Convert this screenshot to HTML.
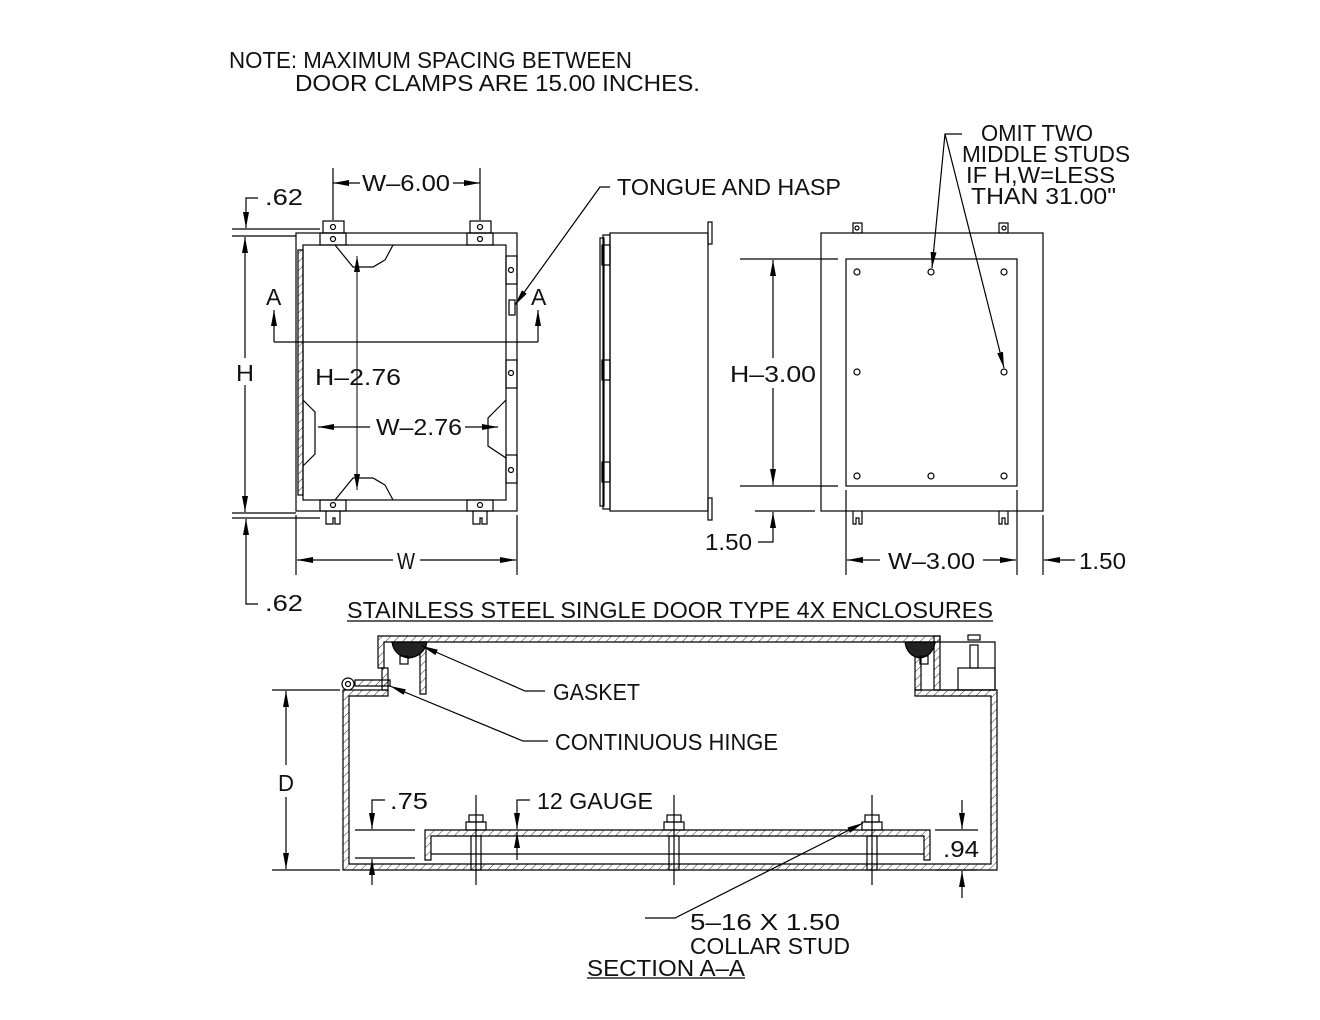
<!DOCTYPE html>
<html><head><meta charset="utf-8"><style>
html,body{margin:0;padding:0;background:#fff;}
svg{display:block}
text{font-family:"Liberation Sans",sans-serif;font-size:23px;fill:#111;}
</style></head><body>
<svg width="1320" height="1020" viewBox="0 0 1320 1020" xmlns="http://www.w3.org/2000/svg">
<defs>
<marker id="a" viewBox="0 0 16 6" refX="16" refY="3" markerWidth="16" markerHeight="6" markerUnits="userSpaceOnUse" orient="auto-start-reverse"><path d="M0,0L16,3L0,6z" fill="#000"/></marker>
<pattern id="h" width="6" height="6" patternUnits="userSpaceOnUse" patternTransform="rotate(45)"><line x1="0" y1="0" x2="0" y2="6" stroke="#000" stroke-width="0.8"/></pattern>
</defs>
<g stroke="#000" stroke-width="1.2" fill="none">
<rect x="296" y="233" width="221" height="278"/>
<rect x="303" y="245" width="203" height="255"/>
<rect x="298" y="250" width="5" height="245" fill="url(#h)"/>
<rect x="323" y="221" width="21" height="12"/><circle cx="333" cy="227" r="2.5"/>
<rect x="320" y="233" width="26" height="12"/><circle cx="333" cy="239" r="2.5"/>
<rect x="470" y="221" width="21" height="12"/><circle cx="480" cy="227" r="2.5"/>
<rect x="467" y="233" width="26" height="12"/><circle cx="480" cy="239" r="2.5"/>
<rect x="320" y="500" width="26" height="11"/><circle cx="333" cy="505" r="2.5"/>
<rect x="467" y="500" width="26" height="11"/><circle cx="480" cy="505" r="2.5"/>
<path d="M326,511v13h7v-6h2v6h5v-13M473,511v13h7v-6h2v6h5v-13"/>
<rect x="506" y="256" width="11" height="28"/><circle cx="511" cy="270" r="2.5"/>
<rect x="506" y="360" width="11" height="28"/><circle cx="511" cy="373" r="2.5"/>
<rect x="506" y="455" width="11" height="28"/><circle cx="511" cy="470" r="2.5"/>
<rect x="509" y="300" width="6" height="15"/>
<path d="M335,245l18,22h20l12,-7l8,-15M335,500l18,-22h20l12,7l8,15"/>
<path d="M303,400l12,12v42l-12,12M506,400l-18,18v28l18,12"/>
<line x1="357" y1="256" x2="357" y2="490" marker-start="url(#a)" marker-end="url(#a)" stroke-width="1"/>
<line x1="318" y1="427" x2="370" y2="427" marker-start="url(#a)"/>
<line x1="465" y1="427" x2="498" y2="427" marker-end="url(#a)"/>
<line x1="333" y1="168" x2="333" y2="220"/><line x1="480" y1="168" x2="480" y2="220"/>
<line x1="333" y1="183" x2="360" y2="183" marker-start="url(#a)"/>
<line x1="453" y1="183" x2="480" y2="183" marker-end="url(#a)"/>
<line x1="232" y1="229" x2="320" y2="229"/><line x1="232" y1="236" x2="296" y2="236"/>
<line x1="232" y1="513" x2="296" y2="513"/><line x1="232" y1="518" x2="320" y2="518"/>
<line x1="245" y1="237" x2="245" y2="358" marker-start="url(#a)"/>
<line x1="245" y1="385" x2="245" y2="512" marker-end="url(#a)"/>
<path d="M258,198h-12v30" marker-end="url(#a)"/>
<path d="M258,604h-12v-85" marker-end="url(#a)"/>
<line x1="296" y1="515" x2="296" y2="575"/><line x1="517" y1="515" x2="517" y2="575"/>
<line x1="297" y1="560" x2="393" y2="560" marker-start="url(#a)"/>
<line x1="420" y1="560" x2="516" y2="560" marker-end="url(#a)"/>
<line x1="274" y1="342" x2="538" y2="342"/>
<line x1="274" y1="342" x2="274" y2="310" marker-end="url(#a)"/>
<line x1="538" y1="342" x2="538" y2="310" marker-end="url(#a)"/>
<path d="M610,187h-10l-85,118" marker-end="url(#a)"/>
<rect x="610" y="233" width="98" height="278"/>
<rect x="603" y="235" width="7" height="274"/>
<rect x="600" y="238" width="4" height="268"/>
<rect x="708" y="222" width="4" height="22"/><rect x="708" y="498" width="4" height="22"/>
<rect x="602" y="360" width="8" height="20"/><rect x="602" y="462" width="8" height="20"/><rect x="602" y="245" width="8" height="20"/>
<rect x="821" y="233" width="222" height="278"/>
<rect x="846" y="259" width="171" height="227"/>
<rect x="853" y="223" width="9" height="10"/><circle cx="857" cy="228" r="2"/>
<rect x="999" y="223" width="9" height="10"/><circle cx="1004" cy="228" r="2"/>
<path d="M853,511v13h3v-6h3v6h3v-13M999,511v13h3v-6h3v6h3v-13"/>
<circle cx="857" cy="272" r="3"/><circle cx="931" cy="272" r="3"/><circle cx="1004" cy="272" r="3"/>
<circle cx="857" cy="372" r="3"/><circle cx="1004" cy="372" r="3"/>
<circle cx="857" cy="476" r="3"/><circle cx="931" cy="476" r="3"/><circle cx="1004" cy="476" r="3"/>
<path d="M962,134h-17l-13,134" marker-end="url(#a)"/>
<path d="M945,134l59,234" marker-end="url(#a)"/>
<line x1="740" y1="259" x2="838" y2="259"/><line x1="740" y1="486" x2="838" y2="486"/>
<line x1="773" y1="260" x2="773" y2="358" marker-start="url(#a)"/>
<line x1="773" y1="388" x2="773" y2="485" marker-end="url(#a)"/>
<line x1="755" y1="511" x2="815" y2="511"/>
<path d="M758,542h15v-30" marker-end="url(#a)"/>
<line x1="846" y1="490" x2="846" y2="575"/><line x1="1017" y1="490" x2="1017" y2="575"/><line x1="1043" y1="515" x2="1043" y2="575"/>
<line x1="847" y1="560" x2="880" y2="560" marker-start="url(#a)"/>
<line x1="983" y1="560" x2="1016" y2="560" marker-end="url(#a)"/>
<line x1="1075" y1="560" x2="1044" y2="560" marker-end="url(#a)"/>
<line x1="347" y1="621" x2="993" y2="621"/>
<path d="M378,636h562v6h-556v26h-6z" fill="url(#h)"/>
<path d="M343,690h45v6h-39v168h642v-168h-76v-6h82v180h-654z" fill="url(#h)"/>
<path d="M388,668h-6v22h6zM420,642h6v52h-6zM915,642h6v48h-6zM940,636h-6v54h6z" fill="url(#h)"/>
<path d="M355,680h35v6h-35z" fill="url(#h)"/>
<circle cx="348" cy="684" r="6"/><circle cx="348" cy="684" r="2.5"/>
<path d="M392,642h35q-3,14,-18,16q-15,-2,-17,-16z" fill="#222"/>
<path d="M905,642h30q-2,14,-15,16q-13,-2,-15,-16z" fill="#222"/>
<rect x="400" y="656" width="8" height="8"/><rect x="920" y="656" width="8" height="8"/>
<path d="M940,642h55v48h-55"/><rect x="958" y="668" width="37" height="22"/><rect x="970" y="645" width="8" height="23"/><rect x="968" y="635" width="12" height="5"/>
<path d="M425,830h505v30h-6v-24h-493v24h-6z" fill="url(#h)"/>
<line x1="431" y1="854" x2="924" y2="854"/>
<rect x="466" y="822" width="20" height="8"/><rect x="469" y="815" width="14" height="7"/><rect x="471" y="836" width="10" height="34"/>
<rect x="664" y="822" width="20" height="8"/><rect x="667" y="815" width="14" height="7"/><rect x="669" y="836" width="10" height="34"/>
<rect x="862" y="822" width="20" height="8"/><rect x="865" y="815" width="14" height="7"/><rect x="867" y="836" width="10" height="34"/>
<line x1="476" y1="795" x2="476" y2="885"/><line x1="674" y1="795" x2="674" y2="885"/><line x1="872" y1="795" x2="872" y2="885"/>
<line x1="272" y1="690" x2="340" y2="690"/><line x1="272" y1="870" x2="340" y2="870"/>
<line x1="286" y1="691" x2="286" y2="765" marker-start="url(#a)"/>
<line x1="286" y1="797" x2="286" y2="869" marker-end="url(#a)"/>
<line x1="355" y1="830" x2="415" y2="830"/><line x1="355" y1="858" x2="415" y2="858"/>
<path d="M385,800h-13v29" marker-end="url(#a)"/>
<line x1="372" y1="885" x2="372" y2="859" marker-end="url(#a)"/>
<path d="M530,800h-13v29" marker-end="url(#a)"/>
<line x1="517" y1="860" x2="517" y2="832" marker-end="url(#a)"/>
<line x1="935" y1="830" x2="978" y2="830"/><line x1="935" y1="870" x2="978" y2="870"/>
<line x1="962" y1="800" x2="962" y2="829" marker-end="url(#a)"/>
<line x1="962" y1="898" x2="962" y2="871" marker-end="url(#a)"/>
<path d="M545,691h-20l-103,-45" marker-end="url(#a)"/>
<path d="M548,741h-25l-133,-55" marker-end="url(#a)"/>
<path d="M645,918h30l188,-95" marker-end="url(#a)"/>
<line x1="587" y1="978" x2="745" y2="978"/>
</g>
<g>
<text x="229" y="68" textLength="403" lengthAdjust="spacingAndGlyphs">NOTE: MAXIMUM  SPACING  BETWEEN</text>
<text x="295" y="91" textLength="405" lengthAdjust="spacingAndGlyphs">DOOR  CLAMPS  ARE  15.00  INCHES.</text>
<text x="265" y="205" textLength="38" lengthAdjust="spacingAndGlyphs">.62</text>
<text x="265" y="611" textLength="38" lengthAdjust="spacingAndGlyphs">.62</text>
<text x="362" y="191" textLength="88" lengthAdjust="spacingAndGlyphs">W–6.00</text>
<text x="236" y="381" textLength="18" lengthAdjust="spacingAndGlyphs">H</text>
<text x="266" y="305">A</text><text x="531" y="305">A</text>
<text x="315" y="385" textLength="86" lengthAdjust="spacingAndGlyphs">H–2.76</text>
<text x="376" y="435" textLength="86" lengthAdjust="spacingAndGlyphs">W–2.76</text>
<text x="397" y="569" textLength="18" lengthAdjust="spacingAndGlyphs">W</text>
<text x="617" y="195" textLength="224" lengthAdjust="spacingAndGlyphs">TONGUE  AND  HASP</text>
<text x="981" y="141" textLength="112" lengthAdjust="spacingAndGlyphs">OMIT  TWO</text>
<text x="962" y="162" textLength="168" lengthAdjust="spacingAndGlyphs">MIDDLE  STUDS</text>
<text x="966" y="183" textLength="149" lengthAdjust="spacingAndGlyphs">IF  H,W=LESS</text>
<text x="971" y="204" textLength="145" lengthAdjust="spacingAndGlyphs">THAN  31.00"</text>
<text x="730" y="382" textLength="86" lengthAdjust="spacingAndGlyphs">H–3.00</text>
<text x="705" y="550" textLength="47" lengthAdjust="spacingAndGlyphs">1.50</text>
<text x="888" y="569" textLength="87" lengthAdjust="spacingAndGlyphs">W–3.00</text>
<text x="1079" y="569" textLength="47" lengthAdjust="spacingAndGlyphs">1.50</text>
<text x="347" y="618" textLength="646" lengthAdjust="spacingAndGlyphs">STAINLESS  STEEL  SINGLE  DOOR  TYPE  4X  ENCLOSURES</text>
<text x="553" y="700" textLength="87" lengthAdjust="spacingAndGlyphs">GASKET</text>
<text x="555" y="750" textLength="223" lengthAdjust="spacingAndGlyphs">CONTINUOUS  HINGE</text>
<text x="278" y="791" textLength="16" lengthAdjust="spacingAndGlyphs">D</text>
<text x="390" y="809" textLength="38" lengthAdjust="spacingAndGlyphs">.75</text>
<text x="537" y="809" textLength="116" lengthAdjust="spacingAndGlyphs">12  GAUGE</text>
<text x="943" y="857" textLength="36" lengthAdjust="spacingAndGlyphs">.94</text>
<text x="690" y="930" textLength="150" lengthAdjust="spacingAndGlyphs">5–16  X  1.50</text>
<text x="690" y="954" textLength="160" lengthAdjust="spacingAndGlyphs">COLLAR  STUD</text>
<text x="587" y="976" textLength="158" lengthAdjust="spacingAndGlyphs">SECTION  A–A</text>
</g>
</svg>
</body></html>
